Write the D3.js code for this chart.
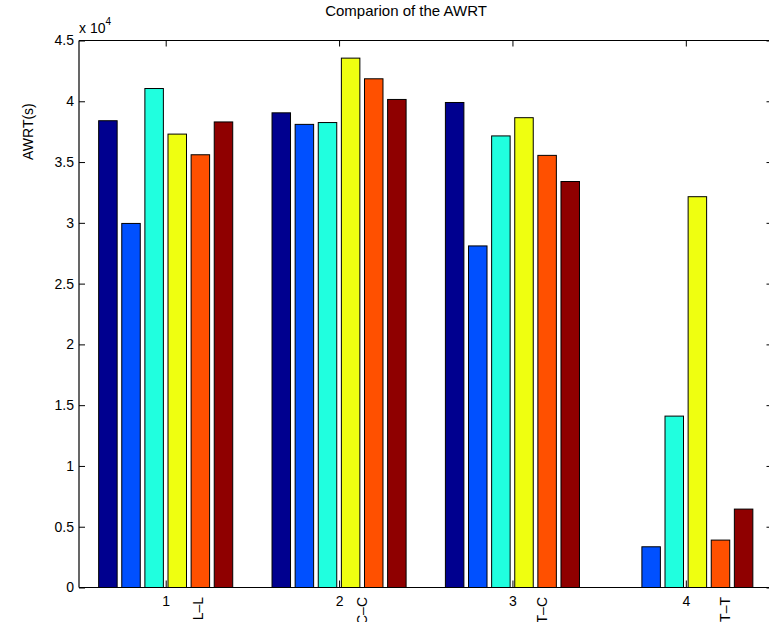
<!DOCTYPE html>
<html>
<head>
<meta charset="utf-8">
<script src="https://cdn.jsdelivr.net/npm/d3@7"></script>
<style>
  html, body { margin: 0; padding: 0; background: #fff; }
  svg { display: block; }
  text { font-family: "Liberation Sans", Arial, Helvetica, sans-serif; fill: #000; }
</style>
</head>
<body>
<svg id="chart" width="769" height="622"></svg>
<script>
// ---- data ----
const groups = [1, 2, 3, 4];
const seriesNames = ["s1", "s2", "s3", "s4", "s5", "s6"];
const s1 = [38400, 39050, 39900, 0];
const s2 = [29950, 38100, 28100, 3350];
const s3 = [41050, 38250, 37150, 14100];
const s4 = [37300, 43550, 38650, 32150];
const s5 = [35600, 41850, 35550, 3900];
const s6 = [38300, 40150, 33400, 6450];
const seriesValues = [s1, s2, s3, s4, s5, s6];
const seriesColors = ["#00008F", "#0050FF", "#20FFDF", "#EFFF10", "#FF5000", "#8F0000"];
const yTicks = [0, 0.5, 1, 1.5, 2, 2.5, 3, 3.5, 4, 4.5];
const pairLabels = ["L–L", "C–C", "T–C", "T–T"];
const pairLabelX = [1.185, 2.13, 3.17, 4.225];
const titleText = "Comparion of the AWRT";
const yLabelText = "AWRT(s)";

// ---- layout ----
const svg = d3.select("#chart");
const mLeft = 79, mRight = 772.5, mTop = 40.5, mBottom = 587.5;
const fs = "14px";

const x = d3.scaleLinear().domain([0.5, 4.5]).range([mLeft, mRight]);
const y = d3.scaleLinear().domain([0, 45000]).range([mBottom, mTop]);

const nSeries = seriesValues.length;
const groupWidth = 0.8;
const pitch = groupWidth / nSeries;
const barW = pitch * 0.8;

// bars
seriesValues.forEach((vals, si) => {
  svg.append("g")
    .selectAll("rect")
    .data(vals.map((v, gi) => ({ g: groups[gi], v })).filter(d => d.v > 0))
    .join("rect")
    .attr("x", d => x(d.g + (si - (nSeries - 1) / 2) * pitch - barW / 2))
    .attr("width", x(barW) - x(0))
    .attr("y", d => y(d.v))
    .attr("height", d => y(0) - y(d.v))
    .attr("fill", seriesColors[si])
    .attr("stroke", "#000")
    .attr("stroke-width", 1);
});

// axes box
const axisG = svg.append("g");
[[mLeft, mRight, mTop, mTop], [mLeft, mRight, mBottom, mBottom], [mLeft, mLeft, mTop, mBottom], [mRight, mRight, mTop, mBottom]]
  .forEach(([x1, x2, y1, y2]) => {
    axisG.append("line").attr("x1", x1).attr("x2", x2).attr("y1", y1).attr("y2", y2)
      .attr("stroke", "#000").attr("stroke-width", 1.2);
  });

// y axis (left) with inward ticks
const yAxis = d3.axisLeft(y)
  .tickValues(yTicks.map(t => t * 1e4))
  .tickSizeInner(-6)
  .tickSizeOuter(0)
  .tickPadding(5)
  .tickFormat(d => String(+(d / 1e4).toFixed(1)));
const yg = svg.append("g").attr("transform", `translate(${mLeft},0)`).call(yAxis);
yg.select(".domain").remove();
yg.selectAll("text").attr("font-size", fs).attr("font-family", "Liberation Sans, Arial, sans-serif");
yg.selectAll("line").attr("stroke", "#000");

// right ticks
const yRight = d3.axisRight(y).tickValues(yTicks.map(t => t * 1e4)).tickSizeInner(-6).tickSizeOuter(0).tickFormat("");
const yr = svg.append("g").attr("transform", `translate(${mRight},0)`).call(yRight);
yr.select(".domain").remove();
yr.selectAll("line").attr("stroke", "#000");

// x axis bottom
const xAxis = d3.axisBottom(x).tickValues(groups).tickSizeInner(-7).tickSizeOuter(0).tickPadding(8.5).tickFormat(d3.format("d"));
const xg = svg.append("g").attr("transform", `translate(0,${mBottom})`).call(xAxis);
xg.select(".domain").remove();
xg.selectAll("text").attr("font-size", fs).attr("font-family", "Liberation Sans, Arial, sans-serif");
xg.selectAll("line").attr("stroke", "#000");

// x axis top ticks
const xTop = d3.axisTop(x).tickValues(groups).tickSizeInner(-6).tickSizeOuter(0).tickFormat("");
const xt = svg.append("g").attr("transform", `translate(0,${mTop})`).call(xTop);
xt.select(".domain").remove();
xt.selectAll("line").attr("stroke", "#000");

// exponent label
const expo = svg.append("text").attr("x", mLeft).attr("y", 33).attr("font-size", fs);
expo.append("tspan").text("x 10");
expo.append("tspan").attr("font-size", "10px").attr("dy", -8).text("4");

// title
svg.append("text").attr("x", 406).attr("y", 16).attr("text-anchor", "middle")
  .attr("font-size", "15px").text(titleText);

// y label
svg.append("text").attr("transform", "translate(33,160) rotate(-90)")
  .attr("text-anchor", "start").attr("font-size", fs).text(yLabelText);

// rotated pair labels
svg.append("g").selectAll("text")
  .data(pairLabels.map((t, i) => ({ t, xv: pairLabelX[i] })))
  .join("text")
  .attr("transform", d => `translate(${x(d.xv) + 5},597) rotate(-90)`)
  .attr("text-anchor", "end")
  .attr("font-size", fs)
  .text(d => d.t);
</script>
</body>
</html>
